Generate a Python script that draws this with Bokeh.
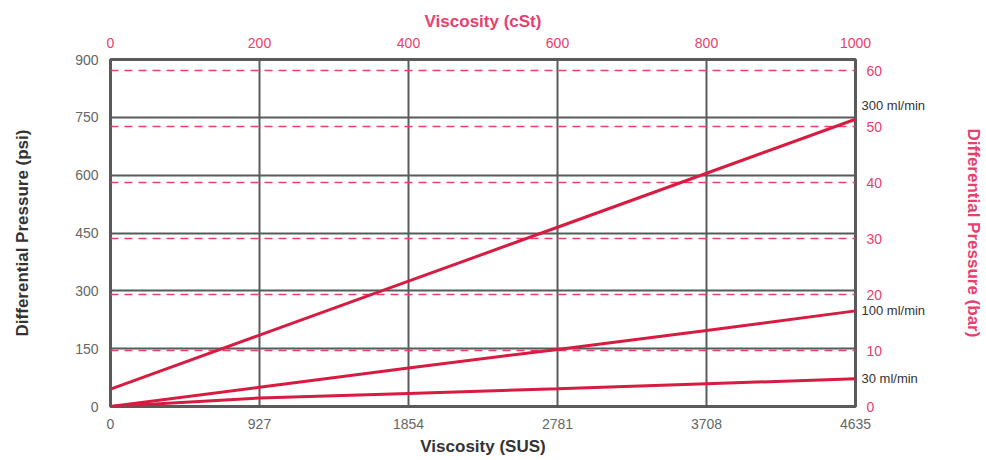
from bokeh.plotting import figure
from bokeh.models import LinearAxis, Range1d, FixedTicker, Grid, ColumnDataSource
from bokeh.embed import file_html
from bokeh.resources import INLINE

# ---- data ----
sus = [0, 927, 1854, 2781, 3708, 4635]
series_names = ["300 ml/min", "100 ml/min", "30 ml/min"]
psi_300 = [45, 185, 325, 465, 605, 745]
psi_100 = [0, 50, 100, 148, 197, 248]
psi_30 = [0, 22, 34, 46, 59, 72]
psi_ticks = [0, 150, 300, 450, 600, 750, 900]
bar_ticks = [0, 10, 20, 30, 40, 50, 60]
sus_ticks = [0, 927, 1854, 2781, 3708, 4635]
cst_ticks = [0, 200, 400, 600, 800, 1000]
PSI_PER_BAR = 14.5038

# ---- style ----
RED = "#d81b40"
PINK = "#e8406e"
GRAY = "#5a5a5a"
DARK = "#333333"
FONT = "Liberation Sans"
FRAME_W, FRAME_H = 745, 347
label_shift_px = [14, 0, 0]   # nudge for the series labels at the right edge

p = figure(frame_width=FRAME_W, frame_height=FRAME_H,
           min_border_left=110, min_border_top=59, min_border_right=123, min_border_bottom=46,
           x_range=Range1d(0, sus_ticks[-1]), y_range=Range1d(0, psi_ticks[-1]),
           output_backend="svg", toolbar_location=None)
p.extra_x_ranges = {"cst": Range1d(0, cst_ticks[-1])}
p.extra_y_ranges = {"bar": Range1d(0, psi_ticks[-1] / PSI_PER_BAR)}

p.outline_line_color = GRAY
p.outline_line_width = 3
p.background_fill_color = "white"
p.border_fill_color = "white"


def style_axis(ax, color, label_color, standoff, size="14px"):
    ax.axis_line_color = None
    ax.major_tick_line_color = None
    ax.minor_tick_line_color = None
    ax.major_label_text_font = FONT
    ax.major_label_text_font_size = size
    ax.major_label_text_color = color
    ax.major_label_standoff = 6
    ax.axis_label_text_font = FONT
    ax.axis_label_text_font_style = "bold"
    ax.axis_label_text_font_size = "17px"
    ax.axis_label_text_color = label_color
    ax.axis_label_standoff = standoff


# bottom axis
xa = p.xaxis[0]
xa.ticker = FixedTicker(ticks=sus_ticks)
xa.axis_label = "Viscosity (SUS)"
style_axis(xa, "#666666", DARK, 5)

# left axis
ya = p.yaxis[0]
ya.ticker = FixedTicker(ticks=psi_ticks)
ya.axis_label = "Differential Pressure (psi)"
style_axis(ya, "#666666", DARK, 40)

# top axis
top = LinearAxis(x_range_name="cst", ticker=FixedTicker(ticks=cst_ticks), axis_label="Viscosity (cSt)")
style_axis(top, PINK, PINK, 4)
p.add_layout(top, "above")

# right axis (bar) - nearest to frame
right = LinearAxis(y_range_name="bar", ticker=FixedTicker(ticks=bar_ticks))
style_axis(right, PINK, PINK, 0)
right.major_label_standoff = 5
p.add_layout(right, "right")

# series labels as an outer right axis pulled back next to the frame
ends = [s[-1] for s in (psi_300, psi_100, psi_30)]
psi_per_px = (psi_ticks[-1] - psi_ticks[0]) / FRAME_H
label_pos = [e + d * psi_per_px for e, d in zip(ends, label_shift_px)]
ml_axis = LinearAxis(ticker=FixedTicker(ticks=label_pos), axis_label="Differential Pressure (bar)")
style_axis(ml_axis, DARK, PINK, 36, size="13px")
ml_axis.major_label_overrides = {pos: name for pos, name in zip(label_pos, series_names)}
ml_axis.major_label_standoff = -30
p.add_layout(ml_axis, "right")

# grids
p.xgrid.ticker = FixedTicker(ticks=sus_ticks)
p.ygrid.ticker = FixedTicker(ticks=psi_ticks)
for g in (p.xgrid[0], p.ygrid[0]):
    g.grid_line_color = GRAY
    g.grid_line_width = 2
    g.grid_line_alpha = 1.0

bar_grid = Grid(dimension=1, ticker=FixedTicker(ticks=bar_ticks[1:]), y_range_name="bar",
                grid_line_color=PINK, grid_line_dash="8 6", grid_line_width=1.5)
p.add_layout(bar_grid)

# series
for vals in (psi_300, psi_100, psi_30):
    src = ColumnDataSource(dict(x=sus, y=vals))
    p.line("x", "y", source=src, line_color=RED, line_width=3)

open("out.html", "w").write(file_html(p, INLINE))
